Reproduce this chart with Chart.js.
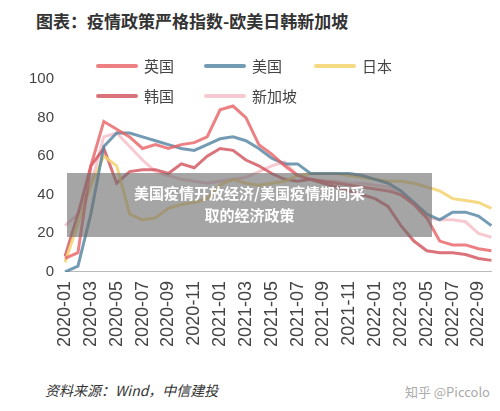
<!DOCTYPE html>
<html>
<head>
<meta charset="utf-8">
<script src="https://cdn.jsdelivr.net/npm/chart.js@4"></script>
<style>
  body { margin: 0; width: 500px; height: 411px; background: #fff; font-family: "Noto Sans CJK SC", sans-serif; position: relative; overflow: hidden; }
  #title { position: absolute; left: 36px; top: 8px; font-size: 17px; font-weight: bold; color: #333; }
  #wrap { position: absolute; left: 26px; top: 40px; width: 490px; height: 310px; }
  #legend { position: absolute; left: 96px; top: 55px; width: 360px; font-size: 15px; color: #444; }
  .item { position: absolute; display: flex; align-items: center; }
  .item span.l { display: inline-block; width: 42px; height: 4px; border-radius: 2px; margin-right: 6px; }
  #banner { position: absolute; left: 67px; top: 173px; width: 365px; height: 64px; background: rgba(110,110,110,0.62); color: #fff; font-weight: bold; font-size: 15px; text-align: center; line-height: 22px; padding-top: 9px; box-sizing: border-box; }
  #src { position: absolute; left: 45px; top: 380px; font-size: 14px; font-style: italic; color: #333; }
  #wm { position: absolute; right: 10px; top: 382px; font-size: 13px; color: #aaa; }
</style>
</head>
<body>
<div id="title">图表：疫情政策严格指数-欧美日韩新加坡</div>
<div id="wrap"><canvas id="chart"></canvas></div>
<div id="legend"></div>
<div id="banner">美国疫情开放经济/美国疫情期间采<br>取的经济政策</div>
<div id="src">资料来源：Wind，中信建投</div>
<div id="wm">知乎 @Piccolo</div>
<script>
const months = [];
for (let y = 2020; y <= 2022; y++) {
  for (let m = 1; m <= 12; m++) {
    if (y === 2022 && m > 10) break;
    months.push(y + "-" + String(m).padStart(2, "0"));
  }
}

const uk = [7, 10, 55, 78, 74, 70, 64, 66, 64, 66, 67, 70, 84, 86, 80, 66, 61, 55, 50, 48, 47, 46, 45, 44, 43, 42, 40, 35, 28, 16, 14, 14, 12, 11];
const us = [0, 3, 30, 65, 72, 72, 70, 68, 66, 64, 63, 66, 69, 70, 68, 64, 59, 56, 56, 51, 51, 51, 51, 50, 48, 46, 42, 36, 30, 27, 31, 31, 29, 24];
const japan = [5, 25, 45, 60, 55, 30, 27, 28, 33, 35, 36, 38, 45, 48, 46, 45, 46, 47, 50, 51, 51, 51, 50, 49, 48, 47, 47, 46, 44, 42, 38, 37, 36, 33];
const korea = [8, 30, 55, 64, 46, 52, 53, 53, 51, 56, 54, 60, 64, 63, 58, 55, 51, 48, 47, 48, 46, 44, 42, 40, 38, 34, 24, 16, 11, 10, 10, 9, 7, 6];
const singapore = [24, 30, 45, 70, 72, 65, 58, 52, 50, 48, 47, 46, 47, 48, 49, 52, 55, 57, 50, 48, 47, 47, 46, 46, 45, 44, 40, 35, 28, 27, 27, 26, 20, 18];

const series = [
  { name: "英国", data: uk, color: "rgba(232,96,100,0.8)" },
  { name: "美国", data: us, color: "rgba(80,130,160,0.8)" },
  { name: "日本", data: japan, color: "rgba(244,210,110,0.85)" },
  { name: "韩国", data: korea, color: "rgba(210,80,90,0.8)" },
  { name: "新加坡", data: singapore, color: "rgba(246,196,204,0.9)" },
];

// legend laid out like the original, 3 per row
const legend = document.getElementById("legend");
const pos = [[0, 0], [108, 0], [218, 0], [0, 30], [108, 30]];
series.forEach((s, i) => {
  const d = document.createElement("div");
  d.className = "item";
  d.style.left = pos[i][0] + "px";
  d.style.top = pos[i][1] + "px";
  d.innerHTML = `<span class="l" style="background:${s.color}"></span>${s.name}`;
  legend.appendChild(d);
});

new Chart(document.getElementById("chart"), {
  type: "line",
  data: {
    labels: months,
    datasets: series.map(s => ({
      label: s.name,
      data: s.data,
      borderColor: s.color,
      borderWidth: 3,
      pointRadius: 0,
      tension: 0,
    })),
  },
  options: {
    responsive: true,
    maintainAspectRatio: false,
    animation: false,
    layout: { padding: { top: 39, right: 0 } },
    plugins: { legend: { display: false }, tooltip: { enabled: false } },
    scales: {
      x: {
        grid: { display: false, drawTicks: true, tickLength: 6, color: "#bbb" },
        border: { color: "#bbb" },
        ticks: {
          autoSkip: false,
          maxRotation: 90,
          minRotation: 90,
          color: "#444",
          font: { size: 18 },
          callback: (v, i) => (i % 2 === 0 ? months[i] : ""),
        },
      },
      y: {
        min: 0,
        max: 100,
        grid: { display: false },
        border: { display: false },
        ticks: { stepSize: 20, color: "#444", font: { size: 15 } },
      },
    },
  },
});
</script>
</body>
</html>
